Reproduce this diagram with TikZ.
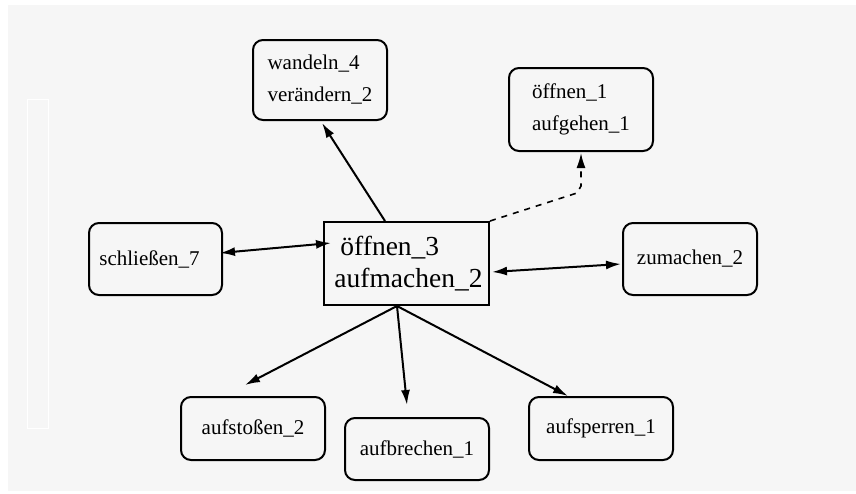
\documentclass[tikz,border=0pt]{standalone}
\usepackage{fontspec}
\setmainfont{Liberation Serif}
\usetikzlibrary{arrows.meta,positioning,calc}
\definecolor{paper}{RGB}{246,246,246}

\begin{document}
\begin{tikzpicture}[x=1pt, y=-1pt, >={Latex[length=15pt,width=9pt]},
    synset/.style={draw, line width=2pt, rounded corners=10pt, inner sep=0pt,
        align=left, font=\fontsize{21}{32}\selectfont},
    hub/.style={draw, line width=2pt, inner sep=0pt, align=left,
        font=\fontsize{27.5}{32}\selectfont},
    rel/.style={line width=2pt}]

    % Canvas
    \useasboundingbox (0,0) rectangle (856,493);
    \fill[paper] (8,5) rectangle (856,491);
    \draw[white, line width=1pt] (27,99) rectangle (48,428);

    % Central synset
    \node[hub, minimum width=165pt, minimum height=83pt] (oeffnen3) at (406.5,263.5)
        {\hspace*{10pt}öffnen\_3\\\hspace*{4pt}aufmachen\_2};

    % Related synsets
    \node[synset, minimum width=134pt, minimum height=80pt] (wandeln) at (320,80)
        {wandeln\_4\\verändern\_2};
    \node[synset, minimum width=144pt, minimum height=83pt] (oeffnen1) at (581,109.5)
        {öffnen\_1\\aufgehen\_1};
    \node[synset, minimum width=133pt, minimum height=72pt] (schliessen) at (155.5,259)
        {schließen\_7\hspace*{12pt}};
    \node[synset, minimum width=134pt, minimum height=72pt] (zumachen) at (690,259)
        {zumachen\_2};
    \node[synset, minimum width=144pt, minimum height=63pt] (aufstossen) at (253,428.5)
        {aufstoßen\_2};
    \node[synset, minimum width=144pt, minimum height=62pt] (aufbrechen) at (417,449)
        {aufbrechen\_1};
    \node[synset, minimum width=144pt, minimum height=63pt] (aufsperren) at (601,428.5)
        {aufsperren\_1};

    % Bend points of the dashed relation
    \coordinate (bendA) at (577,193);
    \coordinate (bendB) at (581,186);

    % Relations
    \draw[rel, ->] ([xshift=-21.5pt]oeffnen3.north) -- ([xshift=2pt,yshift=-2pt]wandeln.south);
    \draw[rel, ->, line width=1.6pt, dash pattern=on 6pt off 6pt] (oeffnen3.north east) -- (bendA) -- (bendB)
        -- ([yshift=-1pt]oeffnen1.south);
    \draw[rel, <->] ([xshift=-3pt,yshift=6pt]schliessen.east) -- ([xshift=8pt,yshift=20.5pt]oeffnen3.west);
    \draw[rel, <->] ([xshift=2pt,yshift=-8.5pt]oeffnen3.east) -- ([xshift=-1pt,yshift=-5pt]zumachen.west);
    \draw[rel, ->] ([xshift=-9.5pt]oeffnen3.south) -- ([xshift=-8pt,yshift=11pt]aufstossen.north);
    \draw[rel, ->] ([xshift=-9.5pt]oeffnen3.south) -- ([xshift=-10pt,yshift=12pt]aufbrechen.north);
    \draw[rel, ->] ([xshift=-9.5pt]oeffnen3.south) -- ([xshift=-33pt]aufsperren.north);

\end{tikzpicture}
\end{document}
